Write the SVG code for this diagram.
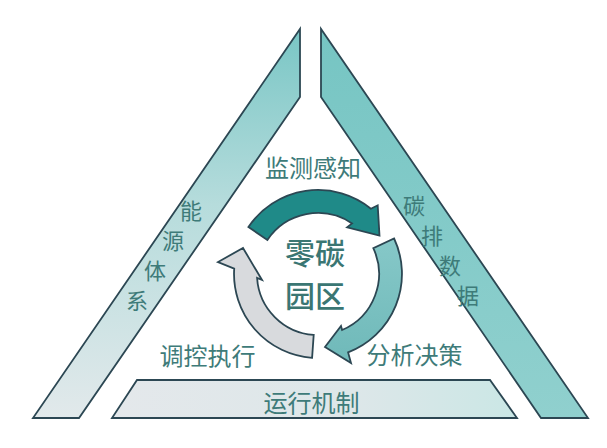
<svg xmlns="http://www.w3.org/2000/svg" width="607" height="448" viewBox="0 0 607 448">
  <defs>
    <linearGradient id="gLeft" x1="0" y1="0" x2="0" y2="1">
      <stop offset="0" stop-color="#79c6c5"/>
      <stop offset="0.45" stop-color="#b6dcdc"/>
      <stop offset="1" stop-color="#e2e9eb"/>
    </linearGradient>
    <linearGradient id="gRight" x1="0" y1="0" x2="0" y2="1">
      <stop offset="0" stop-color="#76c5c3"/>
      <stop offset="1" stop-color="#90d0ce"/>
    </linearGradient>
    <linearGradient id="gBottom" x1="0" y1="0" x2="1" y2="0">
      <stop offset="0" stop-color="#e4e8eb"/>
      <stop offset="0.6" stop-color="#dde7e9"/>
      <stop offset="1" stop-color="#cae7e5"/>
    </linearGradient>
    <linearGradient id="gArrowR" x1="0" y1="0" x2="0" y2="1">
      <stop offset="0" stop-color="#86c8c8"/>
      <stop offset="1" stop-color="#6fb9b9"/>
    </linearGradient>
  </defs>
  <style>
    .bar { stroke: #2c4753; stroke-width: 1.8; stroke-linejoin: miter; }
    .arrow { stroke: #2c4753; stroke-width: 1.8; stroke-linejoin: miter; }
    .lbl { font-family: "Noto Sans CJK SC", "Noto Sans", sans-serif; fill: #3e7b79; text-anchor: middle; }
    .big { font-size: 24px; }
    .vert { font-size: 22px; }
    .center { font-size: 30px; fill: #3a7673; font-weight: 500; }
  </style>
  <rect width="607" height="448" fill="#ffffff"/>

  <g id="energy-system">
    <polygon class="bar" fill="url(#gLeft)" points="300,29 300,97 79,418 33,418"/>
    <text class="lbl vert" x="191" y="219">能</text>
    <text class="lbl vert" x="173" y="249">源</text>
    <text class="lbl vert" x="155" y="279">体</text>
    <text class="lbl vert" x="137" y="309">系</text>
  </g>

  <g id="carbon-data">
    <polygon class="bar" fill="url(#gRight)" points="321,29 321,97 541,418 588,418"/>
    <text class="lbl vert" x="414" y="214">碳</text>
    <text class="lbl vert" x="432" y="244">排</text>
    <text class="lbl vert" x="450" y="274">数</text>
    <text class="lbl vert" x="468" y="304">据</text>
  </g>

  <g id="operation-mechanism">
    <polygon class="bar" fill="url(#gBottom)" points="137,380 490,380 517,418 112,418"/>
    <text class="lbl big" x="311.5" y="412">运行机制</text>
  </g>

  <g id="connectors">
    <path id="arrow-monitor" class="arrow" fill="#1f8a88" d="M248.4,227.0 A84,84 0 0 1 370.9,208.7 L377.7,205.3 L379.5,235.6 L347.1,227.4 L352.1,223.4 A61,61 0 0 0 267.4,239.9 Z"/>
    <path id="arrow-analyze" class="arrow" fill="url(#gArrowR)" d="M394.1,238.5 A84,84 0 0 1 348.1,352.4 L351,363 L325,347 L341,326 L342.1,330.0 A61,61 0 0 0 373.3,248.2 Z"/>
    <path id="arrow-control" class="arrow" fill="#d8dadd" d="M312.1,357.8 A84,84 0 0 1 234.2,268.6 L218,262 L243,248 L262,280 L257.1,278.0 A61,61 0 0 0 313.7,334.9 Z"/>
  </g>

  <g id="monitor">
    <text class="lbl big" x="313" y="177">监测感知</text>
  </g>
  <g id="analyze">
    <text class="lbl big" x="414.5" y="364">分析决策</text>
  </g>
  <g id="control">
    <text class="lbl big" x="207.5" y="365">调控执行</text>
  </g>
  <g id="zero-carbon-park">
    <text class="lbl center" x="315" y="264">零碳</text>
    <text class="lbl center" x="315" y="307">园区</text>
  </g>
</svg>
